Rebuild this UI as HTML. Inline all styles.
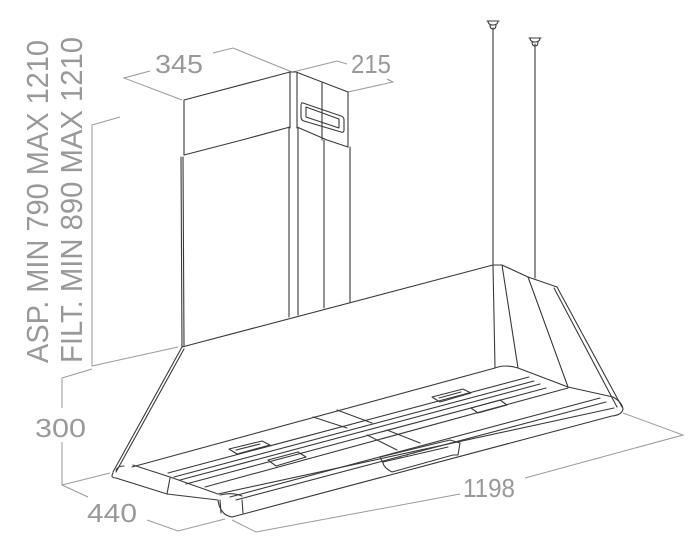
<!DOCTYPE html>
<html><head><meta charset="utf-8"><style>
html,body{margin:0;padding:0;background:#fff;}
svg{display:block;}
text{font-family:"Liberation Sans",sans-serif;fill:#999;}
</style></head><body>
<svg width="698" height="555" viewBox="0 0 698 555" xmlns="http://www.w3.org/2000/svg">
<!-- dimension lines -->
<g stroke="#9a9a9a" stroke-width="1" fill="none">
<polyline points="150,71 124,78 182,100"/>
<polyline points="213,53 233,48 292,72"/>
<polyline points="293,72 337,61 347,64"/>
<polyline points="348,92 393,82 387,79"/>
<polyline points="120,117 92,125 92,366 178,347"/>
<polyline points="92,369 62,378 62,408"/>
<polyline points="62,442 62,485 110,473"/>
<polyline points="62,485 88,497"/>
<polyline points="147,520 178,531 225,519"/>
<polyline points="232,520 256,532 460,494"/>
<polyline points="525,478 683,435 623,413"/>
</g>
<g font-size="26">
<text x="155" y="73" textLength="48" lengthAdjust="spacingAndGlyphs">345</text>
<text x="351" y="73" textLength="40" lengthAdjust="spacingAndGlyphs">215</text>
<text x="35" y="437" textLength="51" lengthAdjust="spacingAndGlyphs">300</text>
<text x="87" y="522" textLength="50" lengthAdjust="spacingAndGlyphs">440</text>
<text x="463" y="497" textLength="52" lengthAdjust="spacingAndGlyphs">1198</text>
</g>
<g font-size="31">
<text transform="translate(48,363) rotate(-90)" textLength="323" lengthAdjust="spacingAndGlyphs">ASP. MIN 790 MAX 1210</text>
<text transform="translate(82,363) rotate(-90)" textLength="326" lengthAdjust="spacingAndGlyphs">FILT. MIN 890 MAX 1210</text>
</g>
<!-- drawing -->
<g stroke="#3a3a3a" stroke-width="1.1" fill="none" stroke-linejoin="round" stroke-linecap="round">
<line x1="493" y1="28" x2="493" y2="265"/>
<line x1="535" y1="44" x2="535" y2="278"/>
<path d="M487,21 h12 M488,21 q0,4 5,4 q5,0 5,-4 M490,25 q0,4 3,4 q3,0 3,-4"/>
<path d="M529,38 h12 M530,38 q0,4 5,4 q5,0 5,-4 M532,42 q0,4 3,4 q3,0 3,-4"/>
<polyline points="184,155 184,100 290,72 296,72 348,92 348,147"/>
<line x1="290" y1="72" x2="290" y2="128"/>
<line x1="297" y1="73" x2="297" y2="128"/>
<line x1="322" y1="82" x2="322" y2="140"/>
<path d="M184,155 L242,140 L290,127 M297,127 L327,140 L348,147"/>
<path d="M303,103 L341,116 Q344,117 344,120 L344,130 Q344,133 341,132 L304,121 Q301,120 301,117 L301,106 Q301,102 303,103 Z"/>
<path d="M306,107 L339,119 L339,128 L306,117 Z"/>
<line x1="181" y1="157" x2="182" y2="347"/>
<line x1="183" y1="157" x2="184" y2="346"/>
<line x1="289" y1="128" x2="289" y2="317"/>
<line x1="298" y1="128" x2="298" y2="315"/>
<line x1="324" y1="140" x2="324" y2="308"/>
<line x1="350" y1="147" x2="350" y2="302"/>
<polyline points="182,347 493,265 502,265 528,277 557,287"/>
<line x1="182" y1="347" x2="113" y2="472"/>
<line x1="184" y1="349" x2="116" y2="472"/>
<line x1="493" y1="265" x2="495" y2="368"/>
<line x1="502" y1="265" x2="518" y2="368"/>
<line x1="528" y1="277" x2="568" y2="387"/>
<line x1="557" y1="287" x2="622" y2="407"/>
<line x1="554" y1="288" x2="617" y2="407"/>
<path d="M495,368 Q505,364 518,368 L568,387 L613,397 Q622,402 623,409 Q622,415 612,416"/>
<line x1="495" y1="368" x2="132" y2="467"/>
<path d="M113,473 Q110,478 116,478 L167,494 L218,500 Q220,515 232,517 L612,416"/>
<path d="M116,470 Q118,466 124,466"/>
<polyline points="133,465 170,477 218,494 614,408"/>
<line x1="170" y1="478" x2="167" y2="494"/>
<line x1="220" y1="500" x2="221" y2="513"/>
<line x1="242" y1="500" x2="243" y2="513"/>
<path d="M220,495 Q232,492 242,496"/>
<line x1="529" y1="377" x2="168" y2="473"/>
<line x1="534" y1="381" x2="174" y2="477"/>
<line x1="540" y1="384" x2="180" y2="480"/>
<line x1="546" y1="388" x2="186" y2="484"/>
<line x1="568" y1="388" x2="205" y2="487"/>
<line x1="600" y1="398" x2="230" y2="497"/>
<line x1="606" y1="402" x2="236" y2="500"/>
<polyline points="313,417 347,428"/>
<polyline points="337,410 372,423"/>
<polyline points="367,435 397,450"/>
<polyline points="387,430 420,443"/>
<path d="M229,449 L262,441 L270,445 L237,454 Z M236,450 L260,444"/>
<path d="M268,460 L298,452 L306,457 L276,466 Z"/>
<path d="M432,397 L463,389 L471,393 L440,402 Z M439,398 L461,392"/>
<path d="M471,408 L500,400 L507,405 L478,413 Z"/>
<path d="M380,457 L450,440 L460,443 L458,455 L453,455 L392,472 Q384,468 383,463 Z"/>
<line x1="383" y1="462" x2="448" y2="447"/>
</g>
<g fill="#555">
<circle cx="400" cy="457" r="0.9"/><circle cx="407" cy="455" r="0.9"/><circle cx="414" cy="453" r="0.9"/><circle cx="421" cy="451" r="0.9"/><circle cx="428" cy="449" r="0.9"/><circle cx="435" cy="447" r="0.9"/>
</g>
</svg>
</body></html>
